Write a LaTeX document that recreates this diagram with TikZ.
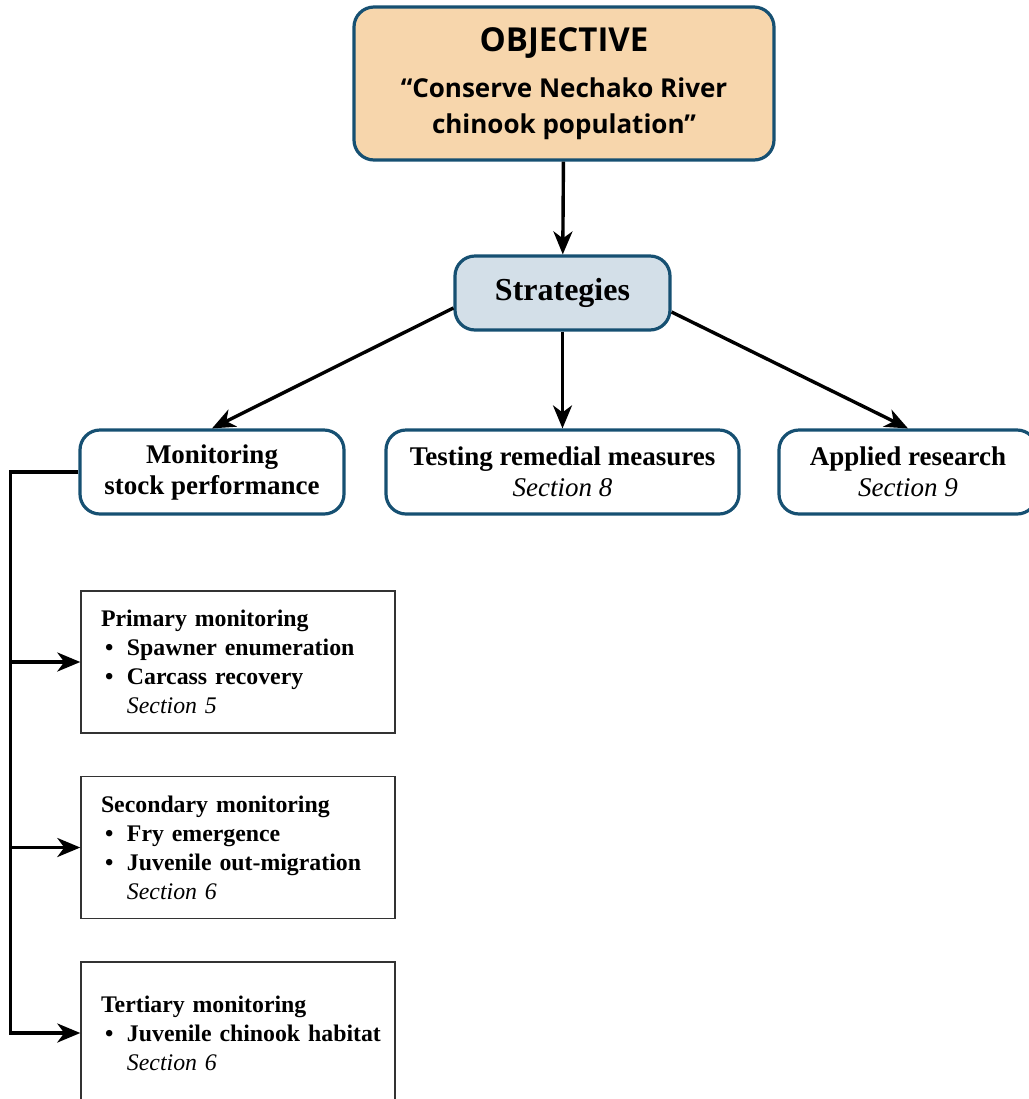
\documentclass[tikz,border=0pt]{standalone}
\usepackage{fontspec}
\setmainfont{Liberation Serif}
\newfontfamily\objfont{Open Sans}
\usetikzlibrary{arrows.meta}

\definecolor{boxblue}{RGB}{22,80,114}
\definecolor{objfill}{RGB}{247,214,172}
\definecolor{stratfill}{RGB}{211,223,232}

\tikzset{
    every strategy/.style={draw=boxblue, line width=1.6pt, rounded corners=10pt,
        align=center, minimum height=42pt,
        font=\bfseries\fontsize{13.5}{15.5}\selectfont},
    every monitor/.style={draw=black!80, line width=0.7pt, minimum width=157pt,
        minimum height=71pt, inner xsep=10pt, text width=137pt, align=left,
        font=\bfseries\fontsize{11.9}{14.5}\selectfont},
    link/.style={line width=1.7pt, -{Stealth[length=11.5pt, width=9.5pt, inset=3.5pt]}}
}

\newcommand{\bitem}[1]{\makebox[13pt][l]{\hspace{2pt}\textbullet}\mbox{#1}}
\newcommand{\sectn}[1]{\hspace*{13pt}{\mdseries\itshape Section #1}}

\begin{document}
\begin{tikzpicture}[x=0.5pt, y=-0.5pt]

\useasboundingbox (0,0) rectangle (1029,1099);

\node [every strategy, fill=objfill, minimum width=210pt, minimum height=76.5pt,
    font=\objfont\bfseries\fontsize{13}{18}\selectfont] (objective) at (564,83.5)
    {{\fontsize{16.5}{18}\selectfont OBJECTIVE}\\[5pt]
     “Conserve Nechako River\\chinook population”};

\node [every strategy, fill=stratfill, minimum width=107.5pt, minimum height=37pt,
    font=\bfseries\fontsize{16}{20}\selectfont] (strategies) at (562.5,293) {Strategies};

\node [every strategy, minimum width=132pt] (monitoring) at (212,472)
    {Monitoring\\stock performance};
\node [every strategy, minimum width=176.5pt] (testing) at (562.5,472)
    {Testing remedial measures\\{\mdseries\itshape Section 8}};
\node [every strategy, minimum width=129pt] (applied) at (908,472)
    {Applied research\\{\mdseries\itshape Section 9}};

\node [every monitor] (primary) at (238,662)
    {Primary monitoring\\\bitem{Spawner enumeration}\\\bitem{Carcass recovery}\\\sectn{5}};
\node [every monitor] (secondary) at (238,847.5)
    {Secondary monitoring\\\bitem{Fry emergence}\\\bitem{Juvenile out-migration}\\\sectn{6}};
\node [every monitor] (tertiary) at (238,1033)
    {Tertiary monitoring\\\bitem{Juvenile chinook habitat}\\\sectn{6}};

\draw [link] (objective) -- (strategies);
\draw [link] (strategies) -- (testing);
\draw [link] ([yshift=-7.5pt]strategies.west) -- (monitoring.north);
\draw [link] ([yshift=-9.5pt]strategies.east) -- (applied.north);

\coordinate (spine) at ([xshift=-34pt]monitoring.west);
\draw [link] (monitoring.west) -- (spine) |- (tertiary.west);
\foreach \b in {primary, secondary}
    \draw [link] (spine |- \b.west) -- (\b.west);

\end{tikzpicture}
\end{document}
